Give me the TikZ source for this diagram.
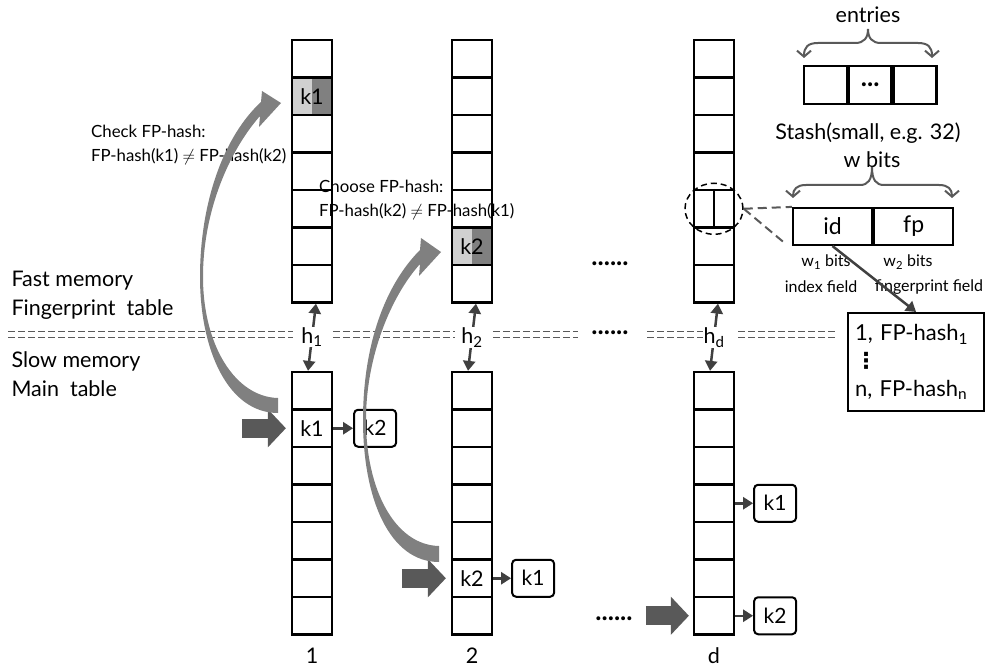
\documentclass[tikz,border=0pt]{standalone}
\usepackage{fontspec}
\setmainfont{Lato}
\newfontfamily\symbfont{DejaVu Sans}
\usetikzlibrary{arrows.meta,positioning,shapes.geometric,calc}
\definecolor{swing}{RGB}{128,128,128}
\definecolor{pushgray}{RGB}{89,89,89}
\definecolor{linkgray}{RGB}{64,64,64}
\definecolor{fplight}{RGB}{208,208,208}
\definecolor{fpdark}{RGB}{128,128,128}
\tikzset{
    cell/.style={
    rectangle,draw=black,line width=2.2pt,minimum width=40pt,minimum height=37.5pt,inner sep=0pt
    },
    keybox/.style={
    rectangle,rounded corners=4pt,draw=black,line width=2pt,minimum width=42pt,minimum height=37pt,inner sep=0pt,font=\fontsize{21}{24}\selectfont
    },
    link/.style={
    draw=linkgray,line width=2.5pt,-{Triangle[length=10pt,width=12pt]}
    },
    hashlink/.style={
    draw=linkgray,line width=2.5pt,{Triangle[length=10pt,width=12pt]}-{Triangle[length=10pt,width=12pt]}
    },
    push/.style={
    draw=pushgray,line width=19pt,-{Triangle[length=18pt,width=37pt]}
    },
    sep/.style={
    draw=pushgray,line width=1pt,dash pattern=on 7pt off 3pt
    },
    brace/.style={
    draw=pushgray,line width=2pt,{Straight Barb[length=6pt,width=14pt]}-{Straight Barb[length=6pt,width=14pt]}
    },
    lbl/.style={font=\fontsize{21.5}{25}\selectfont},
    dots/.style={font=\fontsize{26}{28}\bfseries},
    note/.style={font=\fontsize{16.8}{24}\selectfont,align=left,inner sep=0pt},
    small/.style={font=\fontsize{16}{19}\selectfont},
}

\begin{document}
\begin{tikzpicture}[x=1pt,y=-1pt]
   \useasboundingbox (0,0) rectangle (999,671);

   % memory levels
   \node[lbl,anchor=west] (fast) at (8,281) {Fast memory};
   \node[lbl,anchor=west] (fprint) at (8,310) {Fingerprint~ table};
   \node[lbl,anchor=west] (slow) at (8,361) {Slow memory};
   \node[lbl,anchor=west] (main) at (8,389) {Main~ table};
   \foreach \a/\b in {8/293,333/455,493/578,647/704,738/835} {
     \draw[sep] (\a,331) -- (\b,331);
     \draw[sep] (\a,337) -- (\b,337);
   }

   % notes
   \node[note,anchor=west] (check) at (91,145) {Check FP-hash:\\FP-hash(k1) $\neq$ FP-hash(k2)};
   \node[note,anchor=west] (choose) at (319,200) {Choose FP-hash:\\FP-hash(k2) $\neq$ FP-hash(k1)};

   % tables
   \foreach \c/\x in {1/312,2/472,d/714} {
     \foreach \i in {1,...,7} {
       \node[cell] (t\c-\i) at (\x,{40+37.5*(\i-0.5)}) {};
       \node[cell] (m\c-\i) at (\x,{372+37.5*(\i-0.5)}) {};
     }
   }
   \fill[fplight] (t1-2.north west) rectangle (t1-2.south);
   \fill[fpdark] (t1-2.north) rectangle (t1-2.south east);
   \node[cell,lbl] (fk1) at (t1-2) {k1};
   \fill[fplight] (t2-6.north west) rectangle (t2-6.south);
   \fill[fpdark] (t2-6.north) rectangle (t2-6.south east);
   \node[cell,lbl] (fk2) at (t2-6) {k2};
   \draw[line width=2.2pt] (td-5.north) -- (td-5.south);
   \node[lbl] (mk1) at (m1-2) {k1};
   \node[lbl] (mk2) at (m2-6) {k2};

   \node[lbl] (n1) at (312,656) {1};
   \node[lbl] (n2) at (472,656) {2};
   \node[lbl] (nd) at (714,656) {d};
   \node[dots] (dtop) at (610,264) {......};
   \node[dots] (dmid) at (610,333) {......};
   \node[dots] (dbot) at (614,619) {......};

   % hash functions
   \draw[hashlink] ([xshift=-4pt]m1-1.north) -- node[lbl,fill=white,inner sep=0.5pt] {h\textsubscript{1}} ([xshift=4pt]t1-7.south);
   \draw[hashlink] ([xshift=-4pt]m2-1.north) -- node[lbl,fill=white,inner sep=0.5pt] {h\textsubscript{2}} ([xshift=4pt]t2-7.south);
   \draw[hashlink] ([xshift=-4pt]md-1.north) -- node[lbl,fill=white,inner sep=0.5pt] {h\textsubscript{d}} ([xshift=4pt]td-7.south);

   % chains
   \node[keybox,right=20pt of m1-2] (c1) {k2};
   \node[keybox,right=18pt of m2-6] (c2) {k1};
   \node[keybox,right=18pt of md-4] (c3) {k1};
   \node[keybox,right=18pt of md-7] (c4) {k2};
   \draw[link] (m1-2.east) -- (c1.west);
   \draw[link] (m2-6.east) -- (c2.west);
   \draw[link] (md-4.east) -- (c3.west);
   \draw[link] (md-7.east) -- (c4.west);

   % inserts
   \draw[push] ([xshift=-49pt]m1-2.west) -- ([xshift=-5pt]m1-2.west);
   \draw[push] ([xshift=-49pt]m2-6.west) -- ([xshift=-5pt]m2-6.west);
   \draw[push] ([xshift=-47pt]md-7.west) -- ([xshift=-4pt]md-7.west);

   % moves up
   \fill[swing] (278,413) .. controls (228,413) and (200,350) .. (200,277)
     .. controls (200,200) and (225,135) .. (261,102) -- (262,91) -- (281,103) -- (259,127) -- (260,116)
     .. controls (230,150) and (203,210) .. (203,277) .. controls (203,345) and (235,397) .. (278,398) -- cycle;
   \fill[swing] (439,562) .. controls (390,562) and (363,500) .. (363,420)
     .. controls (363,345) and (385,285) .. (420,250) -- (421,238) -- (441,252) -- (419,276) -- (420,264)
     .. controls (392,295) and (366,355) .. (366,420) .. controls (366,490) and (395,545) .. (439,546) -- cycle;

   % stash
   \node[lbl] (entries) at (868,15) {entries};
   \draw[brace] (804,58) .. controls (804,47) and (808,43) .. (818,43) -- (855,43)
     .. controls (864,43) and (868,38) .. (868,29) .. controls (868,38) and (872,43) .. (881,43)
     -- (918,43) .. controls (928,43) and (932,47) .. (932,58);
   \node[cell,minimum width=42.7pt,minimum height=38pt] (s1) at (825.3,85) {};
   \node[cell,minimum width=42.7pt,minimum height=38pt,right=0pt of s1,font=\fontsize{26}{26}\bfseries] (s2) {...};
   \node[cell,minimum width=42.7pt,minimum height=38pt,right=0pt of s2] (s3) {};
   \node[lbl] (stash) at (868,133) {Stash(small, e.g. 32)};
   \node[lbl] (wbits) at (872,160) {w bits};
   \draw[brace] (793,198) .. controls (793,189) and (797,185) .. (806,185) -- (860,185)
     .. controls (868,185) and (872,180) .. (872,167) .. controls (872,180) and (876,185) .. (884,185)
     -- (939,185) .. controls (948,185) and (952,189) .. (952,198);
   \node[cell,minimum width=79pt,minimum height=37pt,font=\fontsize{23}{25}\selectfont] (id) at (832.5,226.5) {id};
   \node[cell,minimum width=79pt,minimum height=37pt,right=0pt of id,font=\fontsize{23}{25}\selectfont] (fp) {fp};
   \node[small] (w1) at (826,262) {w\textsubscript{1} bits};
   \node[small] (w2) at (908,262) {w\textsubscript{2} bits};
   \node[small] (ifield) at (821,287) {index field};
   \node[small] (ffield) at (929,287) {fingerprint field};
   \node[cell,anchor=north west,minimum width=136pt,minimum height=98pt,align=left,text width=122pt,font=\fontsize{22}{28}\selectfont] (fpbox) at (847,312)
     {1, FP-hash\textsubscript{1}\\ {\symbfont\bfseries ⋮}\\ n, FP-hash\textsubscript{n}};

   % zoom in
   \node[draw=black,ellipse,line width=1.5pt,dash pattern=on 6pt off 4pt,minimum width=58pt,minimum height=51pt,inner sep=0pt] (lens) at (td-5) {};
   \draw[pushgray,line width=2pt,dash pattern=on 9pt off 5pt] (lens.east) -- (id.north west);
   \draw[pushgray,line width=2pt,dash pattern=on 9pt off 5pt] (lens.east) -- ([xshift=-6pt,yshift=2pt]id.south west);
   \draw[link] (id.south) -- (fpbox.north);
\end{tikzpicture}
\end{document}
